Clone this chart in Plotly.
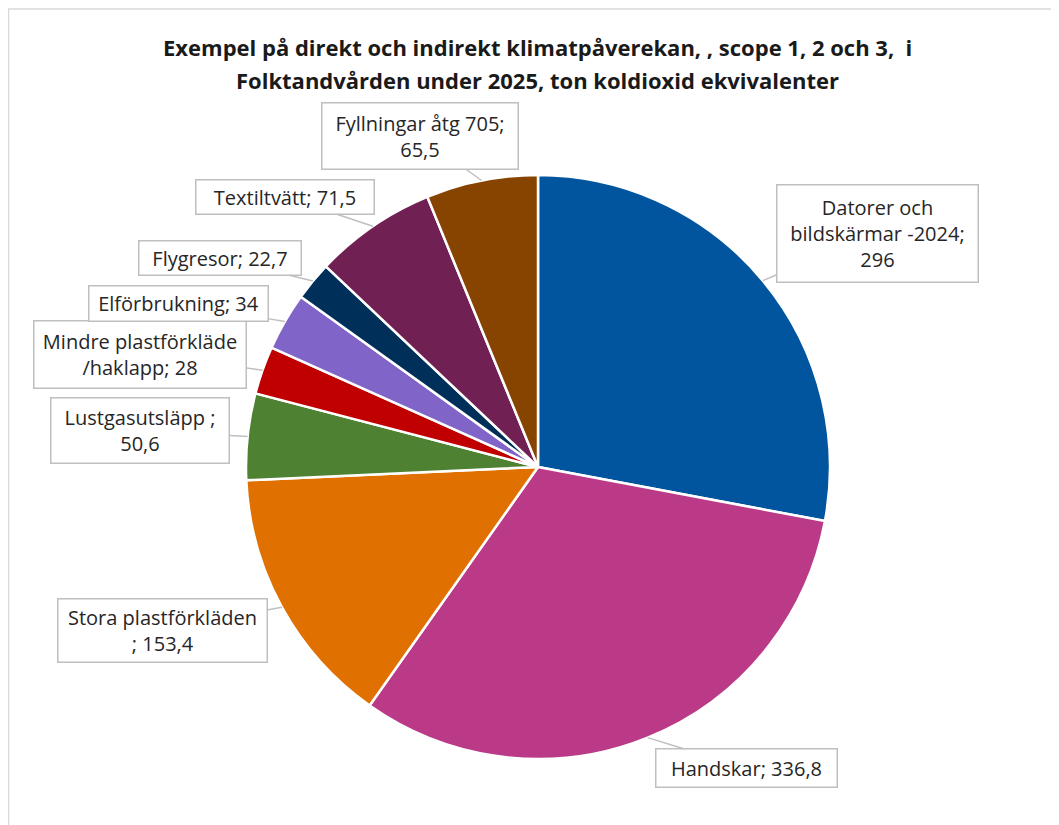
import math
import plotly.graph_objects as go

kategorier = [
    "Datorer och<br>bildskärmar -2024",
    "Handskar",
    "Stora plastförkläden<br>",
    "Lustgasutsläpp ",
    "Mindre plastförkläde<br>/haklapp",
    "Elförbrukning",
    "Flygresor",
    "Textiltvätt",
    "Fyllningar åtg 705",
]
varden = [296, 336.8, 153.4, 50.6, 28, 34, 22.7, 71.5, 65.5]
etiketter = [
    "Datorer och<br>bildskärmar -2024;<br>296",
    "Handskar; 336,8",
    "Stora plastförkläden<br>; 153,4",
    "Lustgasutsläpp ;<br>50,6",
    "Mindre plastförkläde<br>/haklapp; 28",
    "Elförbrukning; 34",
    "Flygresor; 22,7",
    "Textiltvätt; 71,5",
    "Fyllningar åtg 705;<br>65,5",
]
farger = ["#00559E", "#BA3A88", "#E07000", "#4E8232", "#C00000",
          "#8064C8", "#00305A", "#702052", "#874300"]

# layout (pixlar i skärmbilden, sidan har 8 px marginal)
W, H = 1059, 825
OFF = 8
CX, CY, R = 538 - OFF, 467 - OFF, 292
rutor = [  # mittpunkt x, y, bredd, höjd
    (877, 233, 202, 98),
    (746, 768, 182, 39),
    (162, 630, 210, 64),
    (140, 430, 179, 66),
    (140, 354, 213, 68),
    (178, 304, 180, 36),
    (220, 258, 163, 35),
    (285, 197, 179, 35),
    (420, 136, 197, 67),
]

fig = go.Figure(go.Pie(
    labels=kategorier,
    values=varden,
    sort=False,
    direction="clockwise",
    rotation=0,
    marker=dict(colors=farger, line=dict(color="white", width=2.5)),
    textinfo="none",
    showlegend=False,
    domain=dict(x=[(CX - R) / W, (CX + R) / W], y=[1 - (CY + R) / H, 1 - (CY - R) / H]),
))

summa = sum(varden)
start = 0
for text, v, (bx, by, bw, bh) in zip(etiketter, varden, rutor):
    bx, by = bx - OFF, by - OFF
    mitt = start + v / summa * 360 / 2
    start += v / summa * 360
    tx = CX + R * math.sin(math.radians(mitt))
    ty = CY - R * math.cos(math.radians(mitt))
    fig.add_annotation(
        x=tx / W, y=1 - ty / H, xref="paper", yref="paper",
        ax=bx - tx, ay=by - ty,
        text=text, showarrow=True, arrowhead=0, arrowwidth=1.5,
        arrowcolor="#BFBFBF", standoff=0,
        width=bw - 4, height=bh - 4, borderpad=1,
        bordercolor="#BFBFBF", borderwidth=1.5, bgcolor="white",
        font=dict(family="Open Sans", size=20, color="#262626"),
    )

for rad, y in [("Exempel på direkt och indirekt klimatpåverekan, , scope 1, 2 och 3,  i", 47),
               ("Folktandvården under 2025, ton koldioxid ekvivalenter", 80)]:
    fig.add_annotation(
        x=(537 - OFF) / W, y=1 - (y - OFF) / H, xref="paper", yref="paper",
        xanchor="center", yanchor="middle", showarrow=False,
        text="<b>" + rad + "</b>",
        font=dict(family="Open Sans", size=22, color="#1a1a1a"),
    )

fig.add_shape(type="rect", xref="paper", yref="paper",
              x0=0.5 / W, x1=1.02, y0=-0.02, y1=1 - 1 / H,
              line=dict(color="#D9D9D9", width=1.5))

fig.update_layout(
    width=W, height=H,
    margin=dict(l=0, r=0, t=0, b=0),
    paper_bgcolor="white",
    plot_bgcolor="white",
)

fig.write_html("out.html")
